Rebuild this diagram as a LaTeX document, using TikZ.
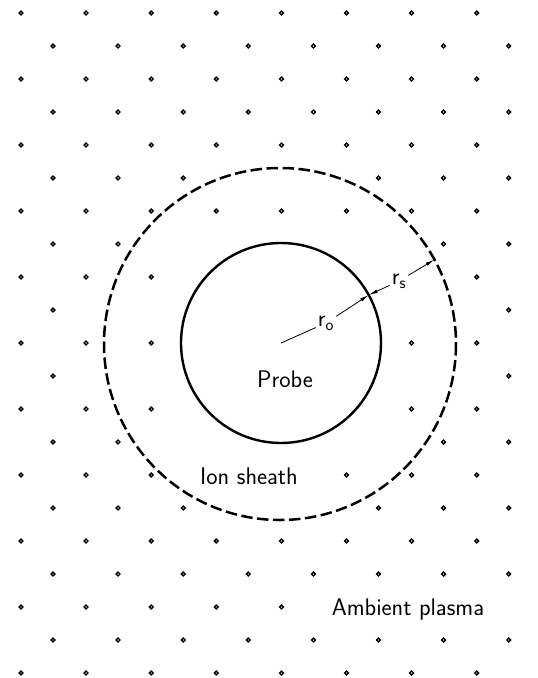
\documentclass[tikz,border=0pt]{standalone}
\usetikzlibrary{arrows.meta}
\begin{document}
\begin{tikzpicture}[x=1pt,y=-1pt,
  dotmark/.style={line width=1.4pt},
  probeline/.style={line width=2.4pt},
  sheathline/.style={line width=2.5pt, dash pattern=on 11.5pt off 4.5pt},
  radiusline/.style={line width=0.8pt},
  tipped/.style={-{Latex[length=9pt,width=3.6pt]}},
  lbl/.style={font=\sffamily\fontsize{24}{26}\selectfont, inner sep=0pt},
  rlbl/.style={font=\sffamily\fontsize{24}{26}\selectfont, inner sep=2pt}]
\useasboundingbox (0,0) rectangle (538,678);
% plasma dots
\begin{scope}
\clip (0,0) rectangle (538,678);
\foreach \k/\js in {0/{0,...,8}, 1/{0,...,7}, 2/{0,...,8}, 3/{0,...,7}, 4/{0,...,8},
  5/{0,1,2,5,6,7}, 6/{0,...,8}, 7/{0,1,6,7}, 8/{0,1,2,7,8}, 9/{0,7},
  10/{0,1,2,6,7,8}, 11/{0,7}, 12/{0,1,2,6,7,8}, 13/{0,1,6,7},
  14/{0,1,2,5,6,7,8}, 15/{0,1,2,5,6,7}, 16/{0,...,8}, 17/{0,...,7},
  18/{0,1,2,3,4,8}, 19/{0,...,7}, 20/{0,...,8}} {
  \pgfmathsetmacro{\yy}{13+33*\k}
  \pgfmathsetmacro{\xo}{mod(\k,2)==0 ? 21 : 53}
  \foreach \j in \js {
    \draw[dotmark] ({\xo+65.1*\j},\yy) circle[radius=1.9pt];
  }
}
\end{scope}
% circles
\coordinate (c) at (281,343);
\coordinate (cs) at (280,344);
\draw[probeline] (c) circle[radius=100];
\draw[sheathline] (cs) circle[radius=176];
% radii
\coordinate (p1) at (368.8,295.0);
\coordinate (p2) at (434.5,259.6);
\node[rlbl] (r0) at (326,323) {r\textsubscript{o}};
\node[rlbl] (rs) at (399,281) {r\textsubscript{s}};
\draw[radiusline] (c) -- (r0);
\draw[radiusline,tipped] (r0) -- (p1);
\draw[radiusline,tipped] (rs) -- (p1);
\draw[radiusline,tipped] (rs) -- (p2);
% labels
\node[lbl, anchor=base] (probelbl) at (285,387) {Probe};
\node[lbl, anchor=base] (sheathlbl) at (249,484) {Ion sheath};
\node[lbl, anchor=base] (ambient) at (408,615) {Ambient plasma};
\end{tikzpicture}
\end{document}
